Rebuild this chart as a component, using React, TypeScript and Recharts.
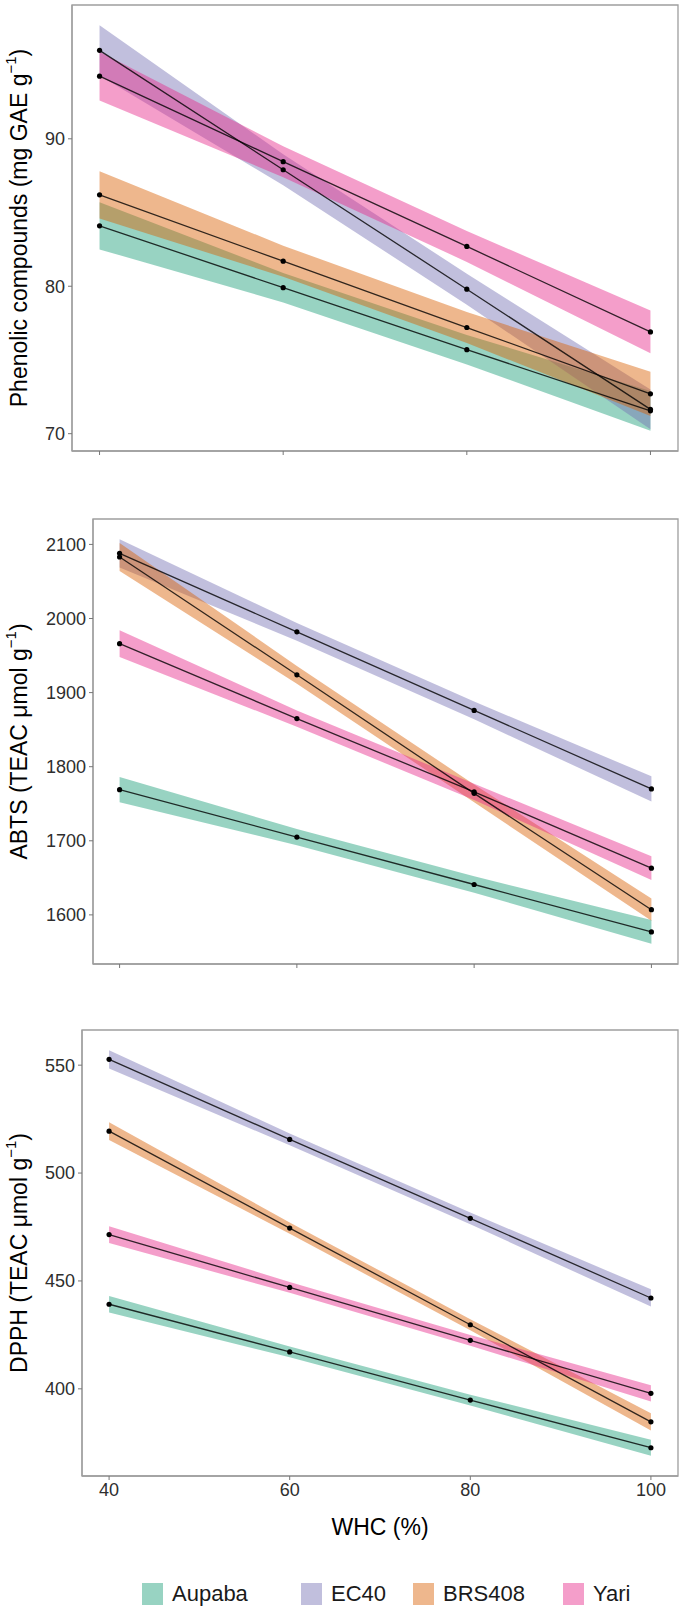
import React from 'react';
import { ComposedChart, Area, Line, XAxis, YAxis, Label, ReferenceArea } from 'recharts';

const FONT = '"Liberation Sans", Arial, Helvetica, sans-serif';

// x categories (WHC %)
const WHC = [40, 60, 80, 100];
const CULTIVARS = ['Aupaba', 'EC40', 'BRS408', 'Yari'];
const COLORS = ['#1B9E77', '#7570B3', '#D95F02', '#E7298A'];

// Phenolic compounds (mg GAE g-1)
const phenAupaba = [84.1, 79.9, 75.7, 71.55];
const phenEC40 = [96.0, 87.9, 79.8, 71.65];
const phenBRS408 = [86.2, 81.7, 77.2, 72.7];
const phenYari = [94.25, 88.45, 82.7, 76.9];
const phenAupabaLo = [82.5, 78.9, 74.7, 70.2];
const phenAupabaHi = [85.7, 80.9, 76.7, 72.9];
const phenEC40Lo = [94.3, 86.85, 78.75, 70.3];
const phenEC40Hi = [97.7, 88.95, 80.85, 73.0];
const phenBRS408Lo = [84.6, 80.65, 76.15, 71.2];
const phenBRS408Hi = [87.8, 82.75, 78.25, 74.2];
const phenYariLo = [92.6, 87.4, 81.65, 75.45];
const phenYariHi = [95.9, 89.5, 83.75, 78.35];
const phenTicks = [70, 80, 90];

// ABTS (TEAC umol g-1)
const abtsAupaba = [1769, 1705, 1641, 1577];
const abtsEC40 = [2088, 1982, 1876, 1770];
const abtsBRS408 = [2083, 1924, 1764, 1607];
const abtsYari = [1966, 1865, 1766, 1663];
const abtsAupabaLo = [1752, 1694, 1630, 1561];
const abtsAupabaHi = [1786, 1716, 1652, 1593];
const abtsEC40Lo = [2069, 1970, 1864, 1753];
const abtsEC40Hi = [2107, 1994, 1888, 1787];
const abtsBRS408Lo = [2064, 1912, 1752, 1592];
const abtsBRS408Hi = [2102, 1936, 1776, 1622];
const abtsYariLo = [1948, 1854, 1755, 1647];
const abtsYariHi = [1984, 1876, 1777, 1679];
const abtsTicks = [1600, 1700, 1800, 1900, 2000, 2100];

// DPPH (TEAC umol g-1)
const dpphAupaba = [439.2, 417.1, 394.8, 372.7];
const dpphEC40 = [552.7, 515.6, 479.0, 442.1];
const dpphBRS408 = [519.4, 474.5, 429.7, 384.7];
const dpphYari = [471.5, 447.0, 422.5, 397.9];
const dpphAupabaLo = [435.4, 414.6, 392.3, 369.0];
const dpphAupabaHi = [443.0, 419.6, 397.3, 376.4];
const dpphEC40Lo = [548.5, 512.9, 476.3, 438.1];
const dpphEC40Hi = [556.9, 518.3, 481.7, 446.1];
const dpphBRS408Lo = [515.3, 471.9, 427.1, 380.7];
const dpphBRS408Hi = [523.5, 477.1, 432.3, 388.7];
const dpphYariLo = [467.6, 444.5, 420.0, 394.1];
const dpphYariHi = [475.4, 449.5, 425.0, 401.7];
const dpphTicks = [400, 450, 500, 550];

const xTicks = [40, 60, 80, 100];
const X_DOMAIN: [number, number] = [37, 103];

function buildRows(vals: number[][], los: number[][], his: number[][]) {
  return WHC.map((x, i) => {
    const r: any = { x };
    CULTIVARS.forEach((c, k) => {
      r[c] = vals[k][i];
      r[c + '_band'] = [los[k][i], his[k][i]];
    });
    return r;
  });
}

function paddedDomain(los: number[][], his: number[][]): [number, number] {
  const mn = Math.min(...los.flat());
  const mx = Math.max(...his.flat());
  const pad = (mx - mn) * 0.05;
  return [mn - pad, mx + pad];
}

const BORDER = '#9e9e9e';
const TICK_TEXT = '#2e2e2e';

type PanelProps = {
  top: number;
  yWidth: number;
  plotHeight: number;
  xAxisHeight: number;
  rows: any[];
  domain: [number, number];
  ticks: number[];
  title: string;
  showX: boolean;
};

function Panel(p: PanelProps) {
  const height = 5 + p.plotHeight + p.xAxisHeight;
  const yTitle = (props: any) => {
    const vb = props.viewBox || { x: 0, y: 0, width: 0, height: 0 };
    const cx = 19;
    const cy = vb.y + vb.height / 2;
    return (
      <text
        transform={`translate(${cx},${cy}) rotate(-90)`}
        textAnchor="middle"
        dominantBaseline="central"
        fontFamily={FONT}
        fontSize={23}
        fill="#000"
      >
        {p.title}
        <tspan dy={-9} fontSize={15}>−1</tspan>
        <tspan dy={9}>)</tspan>
      </text>
    );
  };
  const xTitle = (props: any) => {
    const vb = props.viewBox || { x: 0, y: 0, width: 0, height: 0 };
    return (
      <text
        x={vb.x + vb.width / 2}
        y={vb.y + 51}
        textAnchor="middle"
        dominantBaseline="central"
        fontFamily={FONT}
        fontSize={23}
        fill="#000"
      >
        WHC (%)
      </text>
    );
  };
  return (
    <div style={{ position: 'absolute', left: 0, top: p.top, width: 685, height }}>
      <ComposedChart
        width={685}
        height={height}
        data={p.rows}
        margin={{ top: 5, right: 7, left: 0, bottom: 0 }}
      >
        <XAxis
          dataKey="x"
          type="number"
          domain={X_DOMAIN}
          ticks={xTicks}
          allowDataOverflow
          height={p.xAxisHeight}
          tickSize={4}
          tickMargin={3}
          axisLine={{ stroke: BORDER, strokeWidth: 1.3 }}
          tickLine={{ stroke: '#777', strokeWidth: 1 }}
          tick={{ fill: TICK_TEXT, fontSize: 18, fontFamily: FONT }}
          tickFormatter={(v: any) => (p.showX ? String(v) : '')}
        >
          {p.showX ? <Label content={xTitle} /> : null}
        </XAxis>
        <YAxis
          type="number"
          domain={p.domain}
          ticks={p.ticks}
          allowDataOverflow
          width={p.yWidth}
          tickSize={4}
          tickMargin={3}
          axisLine={{ stroke: BORDER, strokeWidth: 1.3 }}
          tickLine={{ stroke: '#777', strokeWidth: 1 }}
          tick={{ fill: TICK_TEXT, fontSize: 18, fontFamily: FONT }}
        >
          <Label content={yTitle} />
        </YAxis>
        {CULTIVARS.map((c, k) => (
          <Area
            key={c + 'band'}
            dataKey={c + '_band'}
            type="linear"
            stroke="none"
            fill={COLORS[k]}
            fillOpacity={0.45}
            isAnimationActive={false}
            activeDot={false}
          />
        ))}
        {CULTIVARS.map((c) => (
          <Line
            key={c + 'line'}
            dataKey={c}
            type="linear"
            stroke="#000"
            strokeOpacity={0.8}
            strokeWidth={1.3}
            dot={{ r: 2.6, fill: '#000', stroke: '#000', strokeWidth: 0, fillOpacity: 1, strokeOpacity: 1 }}
            activeDot={false}
            isAnimationActive={false}
          />
        ))}
        <ReferenceArea
          x1={X_DOMAIN[0]}
          x2={X_DOMAIN[1]}
          y1={p.domain[0]}
          y2={p.domain[1]}
          fill="none"
          fillOpacity={0}
          stroke={BORDER}
          strokeWidth={1.3}
          ifOverflow="visible"
        />
      </ComposedChart>
    </div>
  );
}

const legendLeft = [142, 301, 413, 563];

export default function App() {
  const phenVals = [phenAupaba, phenEC40, phenBRS408, phenYari];
  const phenLo = [phenAupabaLo, phenEC40Lo, phenBRS408Lo, phenYariLo];
  const phenHi = [phenAupabaHi, phenEC40Hi, phenBRS408Hi, phenYariHi];
  const abtsVals = [abtsAupaba, abtsEC40, abtsBRS408, abtsYari];
  const abtsLo = [abtsAupabaLo, abtsEC40Lo, abtsBRS408Lo, abtsYariLo];
  const abtsHi = [abtsAupabaHi, abtsEC40Hi, abtsBRS408Hi, abtsYariHi];
  const dpphVals = [dpphAupaba, dpphEC40, dpphBRS408, dpphYari];
  const dpphLo = [dpphAupabaLo, dpphEC40Lo, dpphBRS408Lo, dpphYariLo];
  const dpphHi = [dpphAupabaHi, dpphEC40Hi, dpphBRS408Hi, dpphYariHi];

  return (
    <div style={{ position: 'absolute', left: 0, top: 0, width: 685, height: 1608, background: '#fff', overflow: 'hidden' }}>
      <Panel
        top={0}
        yWidth={72}
        plotHeight={446}
        xAxisHeight={20}
        rows={buildRows(phenVals, phenLo, phenHi)}
        domain={paddedDomain(phenLo, phenHi)}
        ticks={phenTicks}
        title="Phenolic compounds (mg GAE g"
        showX={false}
      />
      <Panel
        top={514}
        yWidth={93}
        plotHeight={445}
        xAxisHeight={20}
        rows={buildRows(abtsVals, abtsLo, abtsHi)}
        domain={paddedDomain(abtsLo, abtsHi)}
        ticks={abtsTicks}
        title="ABTS (TEAC μmol g"
        showX={false}
      />
      <Panel
        top={1025}
        yWidth={82}
        plotHeight={446}
        xAxisHeight={70}
        rows={buildRows(dpphVals, dpphLo, dpphHi)}
        domain={paddedDomain(dpphLo, dpphHi)}
        ticks={dpphTicks}
        title="DPPH (TEAC μmol g"
        showX={true}
      />
      {CULTIVARS.map((c, k) => (
        <div
          key={c}
          style={{
            position: 'absolute',
            left: legendLeft[k],
            top: 1583,
            height: 22,
            display: 'flex',
            alignItems: 'center',
            fontFamily: FONT,
            fontSize: 22,
            color: '#1a1a1a',
            whiteSpace: 'nowrap',
          }}
        >
          <span
            style={{
              display: 'inline-block',
              width: 21,
              height: 22,
              background: COLORS[k],
              opacity: 0.45,
              marginRight: 9,
            }}
          />
          <span>{c}</span>
        </div>
      ))}
    </div>
  );
}
